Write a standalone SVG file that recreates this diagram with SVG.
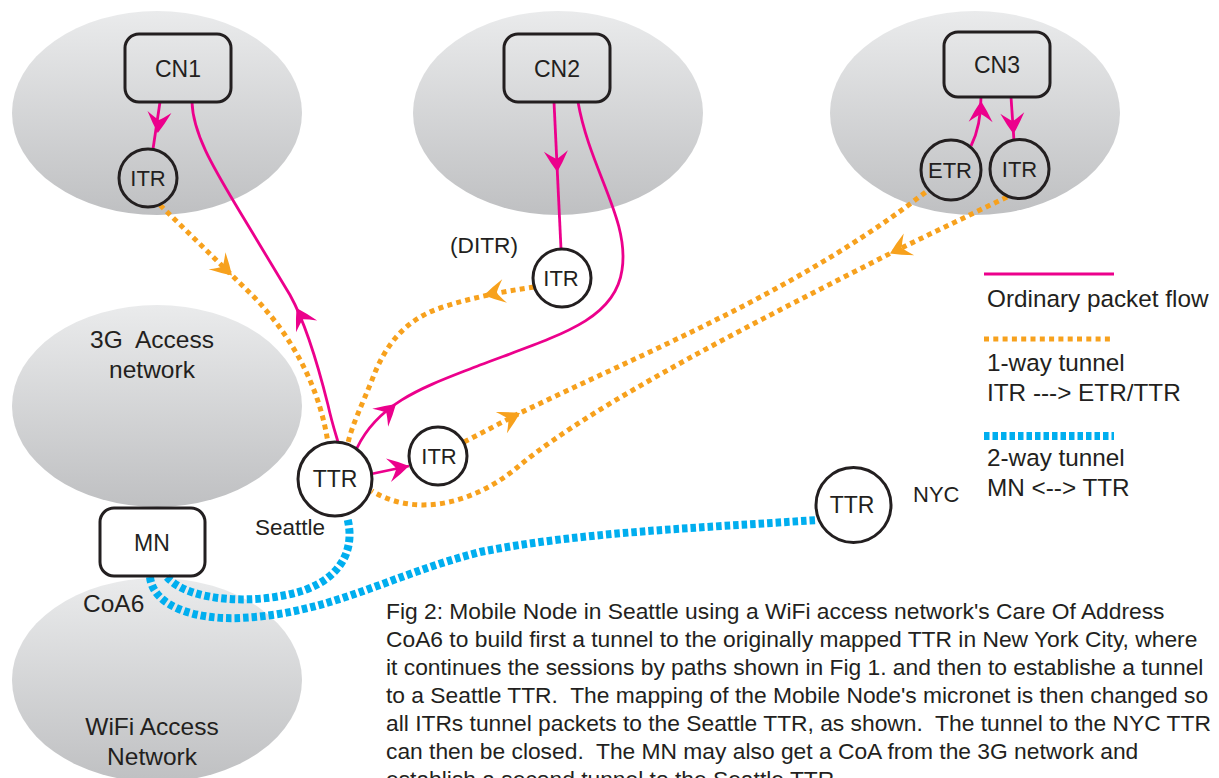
<svg xmlns="http://www.w3.org/2000/svg" width="1219" height="778" viewBox="0 0 1219 778">
<defs>
<style>
.net{fill:url(#g);}
.box{fill:none;stroke:#231f20;stroke-width:3;}
.lbl{font-family:"Liberation Sans",Arial,Helvetica,sans-serif;fill:#231f20;}
.mag{fill:none;stroke:#ec008c;stroke-width:2.8;}
.org{fill:none;stroke:#f7a11d;stroke-width:5;stroke-dasharray:5 4.3;}
.blu{fill:none;stroke:#00aeef;stroke-width:8;stroke-dasharray:5.5 3;}
.mk{fill:none;stroke:none;}
.cap{font-family:"Liberation Sans",Arial,Helvetica,sans-serif;fill:#231f20;font-size:22.8px;white-space:pre;}
</style>
<linearGradient id="g" x1="0" y1="0" x2="0" y2="1">
<stop offset="0" stop-color="#eaebec"/>
<stop offset="1" stop-color="#bfc0c2"/>
</linearGradient>
<marker id="am" viewBox="-24 -14 26 28" refX="0" refY="0" markerWidth="26" markerHeight="28" markerUnits="userSpaceOnUse" orient="auto">
<path d="M0,0 Q-9,-6 -21,-12 Q-15,-4 -13,0 Q-15,4 -21,12 Q-9,6 0,0 Z" fill="#ec008c"/>
</marker>
<marker id="ao" viewBox="-24 -14 26 28" refX="0" refY="0" markerWidth="26" markerHeight="28" markerUnits="userSpaceOnUse" orient="auto">
<path d="M0,0 Q-9,-6 -21,-12 Q-15,-4 -13,0 Q-15,4 -21,12 Q-9,6 0,0 Z" fill="#f7a11d"/>
</marker>
</defs>
<rect width="1219" height="778" fill="#ffffff"/>

<g id="cn1-network"><ellipse class="net" cx="157" cy="113" rx="145" ry="102"/></g>
<g id="cn2-network"><ellipse class="net" cx="558" cy="113" rx="145" ry="102"/></g>
<g id="cn3-network"><ellipse class="net" cx="975" cy="113" rx="145" ry="102"/></g>
<g id="net-3g"><ellipse class="net" cx="157" cy="406" rx="145" ry="101"/>
<text class="lbl" x="152" y="348" font-size="24.5" text-anchor="middle" style="white-space:pre">3G  Access</text>
<text class="lbl" x="152" y="378" font-size="24.5" text-anchor="middle">network</text></g>
<g id="net-wifi"><ellipse class="net" cx="157" cy="680" rx="145" ry="102"/>
<text class="lbl" x="152" y="735" font-size="24.5" text-anchor="middle">WiFi Access</text>
<text class="lbl" x="152" y="765" font-size="24.5" text-anchor="middle">Network</text></g>

<g id="connectors">
<path class="mag" d="M160,102 L153,149"/>
<path class="mk" d="M159,118 L157.8,133" marker-end="url(#am)"/>
<path class="mag" d="M192,102 C193,135 215,170 240,212 L290,295 C305,322 318,365 328,405 C332,423 336,435 338,442"/>
<path class="mk" d="M302,318 L296.5,308" marker-end="url(#am)"/>
<path class="mag" d="M554,102 L561,249"/>
<path class="mk" d="M556.5,160 L557.3,172" marker-end="url(#am)"/>
<path class="mag" d="M578,102 C590,170 630,220 622,270 C615,320 560,335 480,365 C430,385 380,400 357,448"/>
<path class="mk" d="M388,411 L396,404" marker-end="url(#am)"/>
<path class="mag" d="M371,474 L409,466" marker-end="url(#am)"/>
<path class="mag" d="M971,146 C978,132 981,118 981,97"/>
<path class="mk" d="M980.8,112 L981,101" marker-end="url(#am)"/>
<path class="mag" d="M1011,97 L1014,141"/>
<path class="mk" d="M1012.8,122 L1013.5,134" marker-end="url(#am)"/>
<path class="org" d="M160,205 L255,298 C295,340 320,390 328,443"/>
<path class="mk" d="M222,265.7 L232,275.5" marker-end="url(#ao)"/>
<path class="org" d="M534,287 C500,292 470,298 440,308 C405,320 385,345 372,380 C362,405 352,425 348,443"/>
<path class="mk" d="M494,293.2 L484,295.2" marker-end="url(#ao)"/>
<path class="org" d="M464,442 L520,413 C650,350 800,290 927,191"/>
<path class="mk" d="M510,418.2 L520,413" marker-end="url(#ao)"/>
<path class="org" d="M1007,197 L893,252 C760,320 600,400 520,465 C480,500 420,520 372,491"/>
<path class="mk" d="M900,248.7 L890,253.5" marker-end="url(#ao)"/>
<path class="blu" d="M167,577 C190,603 260,605 305,590 C345,575 355,545 347,517"/>
<path class="blu" d="M150,577 C153,606 195,620 240,618 C330,614 390,575 480,552 C580,532 700,528 817,520"/>
</g>

<g id="cn1"><rect class="box" x="125" y="34" width="106" height="68" rx="14"/><text class="lbl" x="178" y="77" font-size="23" text-anchor="middle">CN1</text></g>
<g id="itr1"><circle class="box" cx="148" cy="178" r="29"/><text class="lbl" x="148" y="186" font-size="22" text-anchor="middle">ITR</text></g>
<g id="cn2"><rect class="box" x="504" y="34" width="106" height="68" rx="14"/><text class="lbl" x="557" y="77" font-size="23" text-anchor="middle">CN2</text></g>
<g id="ditr"><circle class="box" cx="562" cy="278" r="29"/><text class="lbl" x="561" y="286" font-size="22" text-anchor="middle">ITR</text>
<text class="lbl" x="450" y="253" font-size="22.7">(DITR)</text></g>
<g id="cn3"><rect class="box" x="944" y="32" width="106" height="65" rx="14"/><text class="lbl" x="997" y="73" font-size="23" text-anchor="middle">CN3</text></g>
<g id="etr3"><circle class="box" cx="951" cy="170" r="30"/><text class="lbl" x="950" y="178" font-size="22" text-anchor="middle">ETR</text></g>
<g id="itr3"><circle class="box" cx="1019.5" cy="169" r="29.5"/><text class="lbl" x="1019.5" y="177" font-size="22" text-anchor="middle">ITR</text></g>
<g id="itr-local"><circle class="box" cx="438" cy="456" r="29"/><text class="lbl" x="439" y="464" font-size="22" text-anchor="middle">ITR</text></g>
<g id="ttr-seattle"><circle class="box" cx="335" cy="479" r="37"/><text class="lbl" x="335" y="487" font-size="23" text-anchor="middle">TTR</text>
<text class="lbl" x="255" y="535" font-size="22.5">Seattle</text></g>
<g id="ttr-nyc"><circle class="box" cx="853.5" cy="505" r="37.5"/><text class="lbl" x="852" y="513" font-size="23" text-anchor="middle">TTR</text>
<text class="lbl" x="913" y="502" font-size="22">NYC</text></g>
<g id="mn"><rect class="box" x="100" y="508" width="105" height="68" rx="14"/><text class="lbl" x="152" y="551" font-size="23" text-anchor="middle">MN</text>
<text class="lbl" x="83" y="612" font-size="24.5">CoA6</text></g>

<g id="legend">
<path d="M984,274 L1114,274" stroke="#ec008c" stroke-width="3" fill="none"/>
<text class="lbl" x="987" y="307" font-size="24.3">Ordinary packet flow</text>
<path d="M984,339 L1114,339" class="org"/>
<text class="lbl" x="987" y="371" font-size="24.3">1-way tunnel</text>
<text class="lbl" x="987" y="401" font-size="24.3">ITR ---&gt; ETR/TTR</text>
<path d="M984,436 L1114,436" class="blu"/>
<text class="lbl" x="987" y="466" font-size="24.3">2-way tunnel</text>
<text class="lbl" x="987" y="496" font-size="24.3">MN &lt;--&gt; TTR</text>
</g>

<g id="caption">
<text class="cap" x="386" y="619">Fig 2: Mobile Node in Seattle using a WiFi access network's Care Of Address</text>
<text class="cap" x="386" y="647">CoA6 to build first a tunnel to the originally mapped TTR in New York City, where</text>
<text class="cap" x="386" y="675">it continues the sessions by paths shown in Fig 1. and then to establishe a tunnel</text>
<text class="cap" x="386" y="703">to a Seattle TTR.  The mapping of the Mobile Node's micronet is then changed so</text>
<text class="cap" x="386" y="731">all ITRs tunnel packets to the Seattle TTR, as shown.  The tunnel to the NYC TTR</text>
<text class="cap" x="386" y="759">can then be closed.  The MN may also get a CoA from the 3G network and</text>
<text class="cap" x="386" y="787">establish a second tunnel to the Seattle TTR.</text>
</g>
</svg>
